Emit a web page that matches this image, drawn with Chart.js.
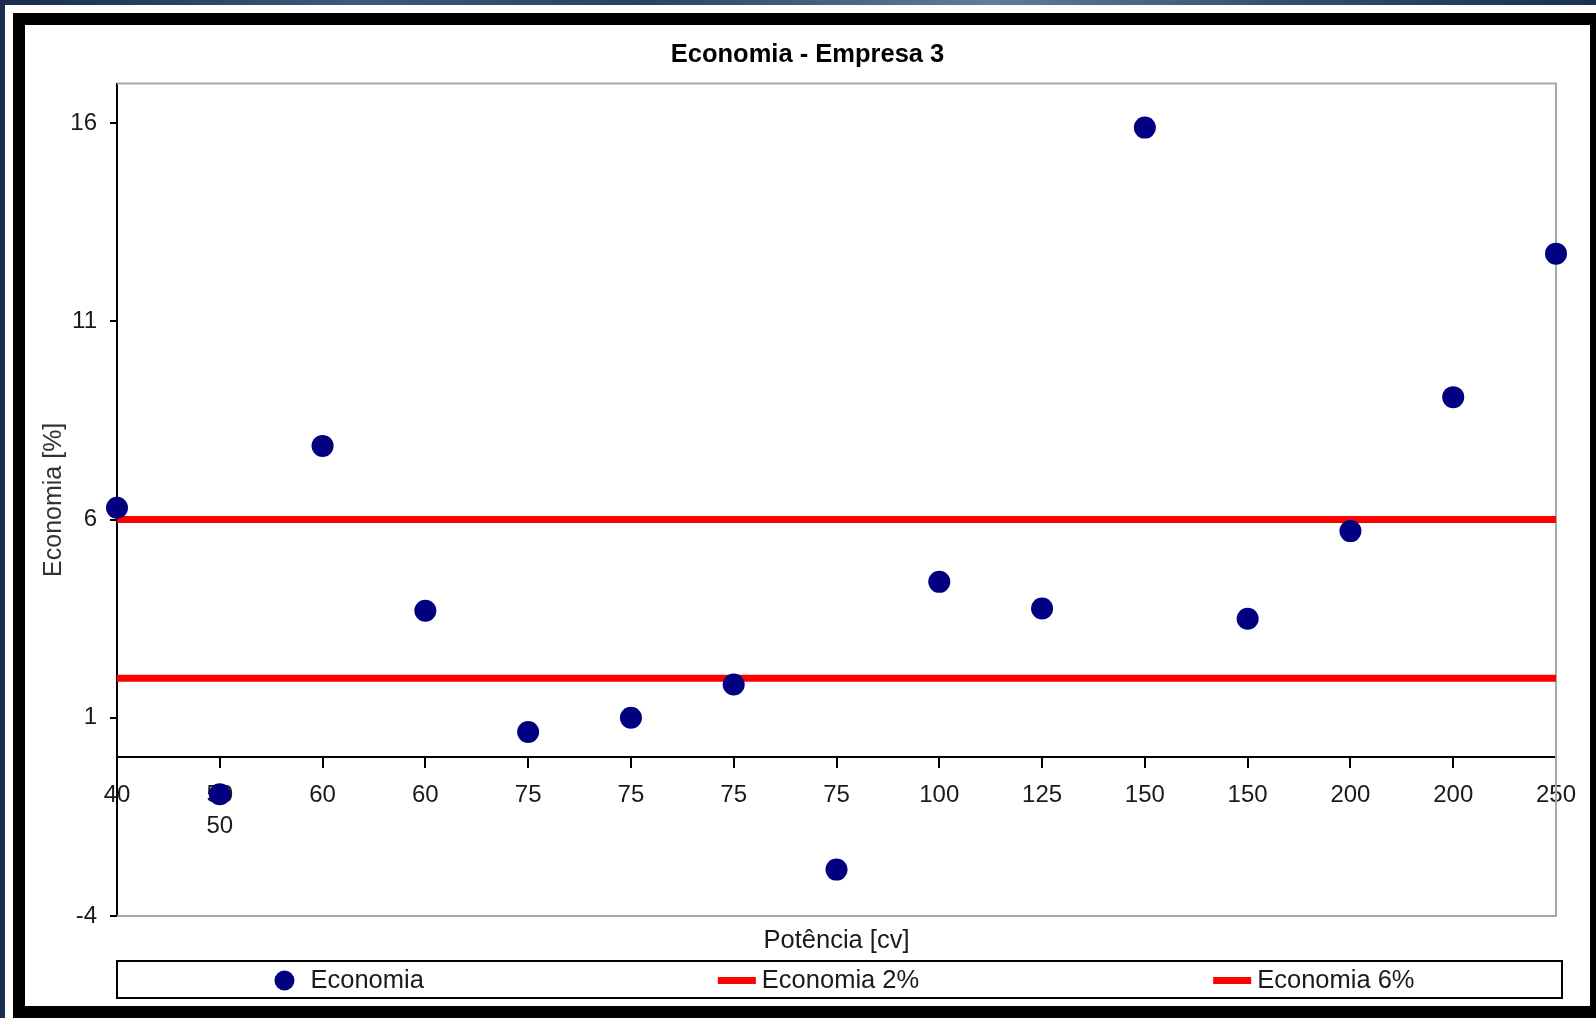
<!DOCTYPE html>
<html>
<head>
<meta charset="utf-8">
<title>Economia - Empresa 3</title>
<script src="https://cdn.jsdelivr.net/npm/chart.js@4.4.1/dist/chart.umd.min.js"></script>
<style>
  html, body { margin: 0; padding: 0; }
  body { width: 1596px; height: 1018px; overflow: hidden; position: relative; background: #1b2d4e; }
  #topBand { position: absolute; left: 0; top: 0; width: 1596px; height: 5px;
    background: linear-gradient(90deg, #1a2b4b 0%, #3d5a7a 22%, #2a4262 40%, #5f7e99 62%, #34506f 80%, #1c2f50 100%); }
  #sheet { position: absolute; left: 5px; top: 5px; right: 0; bottom: 0; background: #fff; }
  #frame { position: absolute; left: 13px; top: 13px; width: 1565px; height: 981px; border: 12px solid #000; background: #fff; }
  canvas { display: block; }
</style>
</head>
<body>
<div id="topBand"></div>
<div id="sheet"></div>
<div id="frame"><canvas id="myChart" width="1565" height="981"></canvas></div>
<script>
// potência dos motores (cv) e economia obtida (%)
const potencia = ['40', ['50', '50'], '60', '60', '75', '75', '75', '75', '100', '125', '150', '150', '200', '200', '250'];
const economia = [6.3, -0.93, 7.86, 3.7, 0.64, 1.0, 1.84, -2.83, 4.43, 3.76, 15.89, 3.5, 5.71, 9.09, 12.71];
const economia2 = [2, 2, 2, 2, 2, 2, 2, 2, 2, 2, 2, 2, 2, 2, 2];
const economia6 = [6, 6, 6, 6, 6, 6, 6, 6, 6, 6, 6, 6, 6, 6, 6];
const yTicks = [-4, 1, 6, 11, 16];

const FONT = '"Liberation Sans", Arial, Helvetica, sans-serif';
Chart.defaults.font.family = FONT;
Chart.defaults.color = '#1a1a1a';

// gray frame around the plot area (left side is the y axis itself)
const plotFrame = {
  id: 'plotFrame',
  beforeDatasetsDraw(chart) {
    const { ctx, chartArea } = chart;
    ctx.save();
    ctx.strokeStyle = '#a8a8a8';
    ctx.lineWidth = 2;
    ctx.beginPath();
    ctx.moveTo(chartArea.left, chartArea.top);
    ctx.lineTo(chartArea.right, chartArea.top);
    ctx.lineTo(chartArea.right, chartArea.bottom);
    ctx.lineTo(chartArea.left, chartArea.bottom);
    ctx.stroke();
    ctx.restore();
  }
};

// boxed legend under the axis title, items spread across the box
const legendBox = {
  id: 'legendBox',
  afterDraw(chart) {
    const { ctx, chartArea } = chart;
    const top = chartArea.bottom + 45;
    const height = 37;
    const left = chartArea.left;
    const right = chart.width - 28;
    ctx.save();
    ctx.lineWidth = 2;
    ctx.strokeStyle = '#000';
    ctx.strokeRect(left, top, right - left, height);

    ctx.font = '25.5px ' + FONT;
    ctx.textBaseline = 'middle';
    const midY = top + height / 2 + 1;
    const items = chart.data.datasets.map((ds) => {
      const marker = ds.showLine === false ? 36 : 44;
      return { ds: ds, marker: marker, w: marker + ctx.measureText(ds.label).width };
    });
    const gap = 294;
    const total = items.reduce((sum, it) => sum + it.w, 0) + gap * (items.length - 1);
    let x = (left + right) / 2 - total / 2 + 5;
    items.forEach((it) => {
      if (it.ds.showLine === false) {
        ctx.fillStyle = it.ds.pointBackgroundColor;
        ctx.beginPath();
        ctx.arc(x + 10, midY, 10, 0, Math.PI * 2);
        ctx.fill();
      } else {
        ctx.fillStyle = it.ds.borderColor;
        ctx.fillRect(x, midY - 3.5, 38, 7);
      }
      ctx.fillStyle = '#1a1a1a';
      ctx.fillText(it.ds.label, x + it.marker, midY);
      x += it.w + gap;
    });
    ctx.restore();
  }
};

new Chart('myChart', {
  type: 'line',
  data: {
    labels: potencia,
    datasets: [{
      label: 'Economia',
      data: economia,
      showLine: false,
      pointRadius: 11,
      pointHoverRadius: 11,
      pointBackgroundColor: '#000080',
      pointBorderWidth: 0,
      borderColor: '#000080',
      clip: false,
      order: 0
    }, {
      label: 'Economia 2%',
      data: economia2,
      borderColor: '#ff0000',
      borderWidth: 7,
      pointRadius: 0,
      fill: false,
      order: 1
    }, {
      label: 'Economia 6%',
      data: economia6,
      borderColor: '#ff0000',
      borderWidth: 7,
      pointRadius: 0,
      fill: false,
      order: 1
    }]
  },
  options: {
    responsive: false,
    animation: false,
    events: [],
    layout: { padding: { top: 0, right: 0, bottom: 45, left: 0 } },
    plugins: {
      legend: { display: false },
      tooltip: { enabled: false },
      title: {
        display: true,
        text: 'Economia - Empresa 3',
        color: '#000',
        font: { size: 25.5, weight: 'bold', lineHeight: 1.2 },
        padding: { top: 15, bottom: 13 }
      }
    },
    scales: {
      x: {
        type: 'category',
        position: { y: 0 },
        offset: false,
        grid: { display: true, drawOnChartArea: false, drawTicks: true, tickLength: 10, color: '#000', lineWidth: 2, offset: false },
        border: { display: true, color: '#000', width: 2 },
        ticks: { autoSkip: false, maxRotation: 0, minRotation: 0, padding: 12, color: '#1a1a1a', font: { size: 24, lineHeight: 1.3 } }
      },
      xTitle: {
        type: 'category',
        axis: 'x',
        position: 'bottom',
        grid: { display: false, drawTicks: false },
        border: { display: false },
        ticks: { display: false },
        title: { display: true, text: 'Potência [cv]', color: '#1a1a1a', font: { size: 25.5, lineHeight: 1.2 }, padding: { top: 7, bottom: 5 } },
        afterFit(scale) { scale.height = 45; }
      },
      y: {
        min: -4,
        max: 17,
        grid: { display: true, drawOnChartArea: false, drawTicks: true, tickLength: 7, color: '#000', lineWidth: 2 },
        border: { display: true, color: '#000', width: 2 },
        ticks: { padding: 13, color: '#1a1a1a', font: { size: 24 } },
        afterBuildTicks(scale) { scale.ticks = yTicks.map((v) => ({ value: v })); },
        afterFit(scale) { scale.width = 92; },
        title: { display: true, text: 'Economia [%]', color: '#333', font: { size: 25, lineHeight: 1.2 }, padding: { top: 14, bottom: 1 } }
      },
      // empty strip on the right so the plot stops short of the frame
      yRight: {
        type: 'linear',
        axis: 'y',
        position: 'right',
        grid: { display: false, drawTicks: false },
        border: { display: false },
        ticks: { display: false },
        afterFit(scale) { scale.width = 34; }
      }
    }
  },
  plugins: [plotFrame, legendBox]
});
</script>
</body>
</html>
